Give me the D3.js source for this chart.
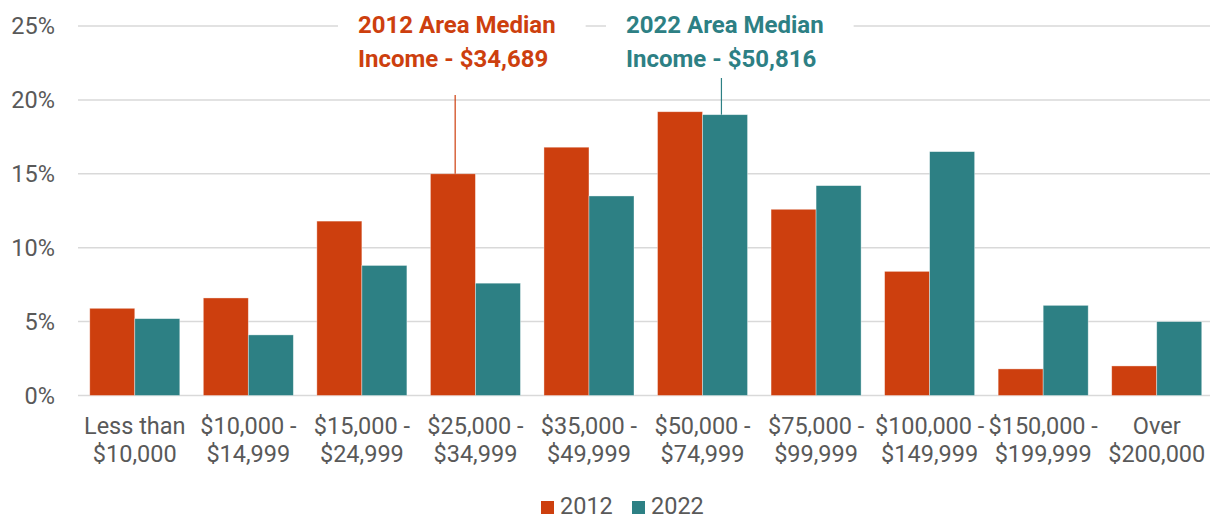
<!DOCTYPE html>
<html>
<head>
<meta charset="utf-8">
<script src="https://cdn.jsdelivr.net/npm/d3@7"></script>
<style>
  body { margin: 0; background: #fff; }
  text { font-family: Roboto, "Noto Sans", sans-serif; }
</style>
</head>
<body>
<div id="chart"></div>
<script>
// --- data ---
const categories = [
  ["Less than", "$10,000"], ["$10,000 -", "$14,999"], ["$15,000 -", "$24,999"],
  ["$25,000 -", "$34,999"], ["$35,000 -", "$49,999"], ["$50,000 -", "$74,999"],
  ["$75,000 -", "$99,999"], ["$100,000 -", "$149,999"], ["$150,000 -", "$199,999"],
  ["Over", "$200,000"]
];
const seriesNames = ["2012", "2022"];
const values2012 = [5.9, 6.6, 11.8, 15.0, 16.8, 19.2, 12.6, 8.4, 1.8, 2.0];
const values2022 = [5.2, 4.1, 8.8, 7.6, 13.5, 19.0, 14.2, 16.5, 6.1, 5.0];
const yTicks = [0, 5, 10, 15, 20, 25];
const colors = { "2012": "#CD3F0E", "2022": "#2D8084" };

// median annotations: category index, series, position inside the bar (0..1)
const medians = [
  { series: "2012", cat: 3, frac: 0.55, lines: ["2012 Area Median", "Income - $34,689"], lineTop: 95, textX: 358 },
  { series: "2022", cat: 5, frac: 0.42, lines: ["2022 Area Median", "Income - $50,816"], lineTop: 78, textX: 626 }
];

// --- setup ---
const width = 1210, height = 519;
const fs = 23.5;
const svg = d3.select("#chart").append("svg").attr("width", width).attr("height", height);

const x = d3.scaleBand().domain(d3.range(categories.length)).range([78, 1213.5]).paddingInner(0.207).paddingOuter(0.1035);
const xSub = d3.scaleBand().domain(seriesNames).range([0, x.bandwidth()]);
const y = d3.scaleLinear().domain([0, 25]).range([395.5, 26]);

// gridlines
svg.append("g").selectAll("line").data(yTicks).join("line")
  .attr("x1", 78).attr("x2", 1213.5)
  .attr("y1", d => y(d)).attr("y2", d => y(d))
  .attr("stroke", "#D9D9D9").attr("stroke-width", 1.5);

// y tick labels
svg.append("g").selectAll("text").data(yTicks).join("text")
  .attr("x", 55).attr("y", d => y(d)).attr("dy", "0.35em")
  .attr("text-anchor", "end").attr("font-size", fs).attr("fill", "#595959")
  .text(d => d + "%");

// bars
const rows = categories.map((c, i) => ({ i, vals: { "2012": values2012[i], "2022": values2022[i] } }));
svg.append("g").selectAll("g").data(rows).join("g")
  .attr("transform", d => `translate(${x(d.i)},0)`)
  .selectAll("rect").data(d => seriesNames.map(s => ({ s, v: d.vals[s] }))).join("rect")
  .attr("x", d => xSub(d.s)).attr("width", xSub.bandwidth())
  .attr("y", d => y(d.v)).attr("height", d => y(0) - y(d.v))
  .attr("fill", d => colors[d.s])
  .attr("stroke", "#fff").attr("stroke-opacity", 0.5).attr("stroke-width", 0.75);

// x labels
const xl = svg.append("g").selectAll("text").data(categories).join("text")
  .attr("x", (d, i) => x(i) + x.bandwidth() / 2)
  .attr("text-anchor", "middle").attr("font-size", fs).attr("fill", "#595959");
xl.append("tspan").attr("x", (d, i) => x(i) + x.bandwidth() / 2).attr("y", 434).text(d => d[0]);
xl.append("tspan").attr("x", (d, i) => x(i) + x.bandwidth() / 2).attr("y", 462).text(d => d[1]);

// median annotations
medians.forEach(m => {
  const vals = m.series === "2012" ? values2012 : values2022;
  const lx = x(m.cat) + xSub(m.series) + m.frac * xSub.bandwidth();
  svg.append("line")
    .attr("x1", lx).attr("x2", lx).attr("y1", m.lineTop).attr("y2", y(vals[m.cat]))
    .attr("stroke", colors[m.series]).attr("stroke-width", 1.2);
  const g = svg.append("g");
  const bg = g.append("rect").attr("fill", "#fff");
  const t = g.append("text").attr("font-size", 24).attr("font-weight", "bold").attr("fill", colors[m.series]);
  m.lines.forEach((ln, k) => t.append("tspan").attr("x", m.textX).attr("y", 33 + k * 34).text(ln));
  const bb = t.node().getBBox();
  bg.attr("x", bb.x - 20).attr("y", bb.y).attr("width", bb.width + 50).attr("height", bb.height);
});

// legend
const legend = svg.append("g").selectAll("g").data(seriesNames).join("g")
  .attr("transform", (d, i) => `translate(${541 + i * 91},501)`);
legend.append("rect").attr("width", 13).attr("height", 13).attr("fill", d => colors[d]);
legend.append("text").attr("x", 19).attr("y", 13).attr("font-size", fs).attr("fill", "#595959").text(d => d);
</script>
</body>
</html>
